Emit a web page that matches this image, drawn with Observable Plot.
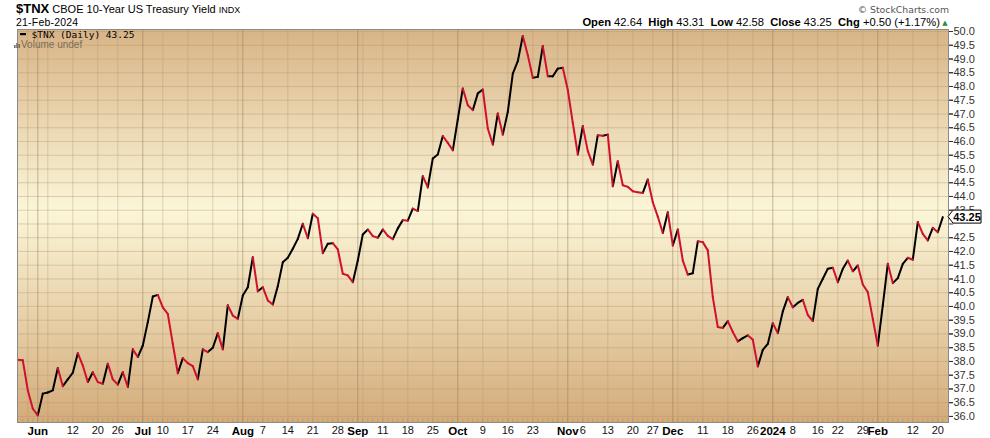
<!DOCTYPE html>
<html>
<head>
<meta charset="utf-8">
<script src="https://cdn.jsdelivr.net/npm/d3@7"></script>
<script src="https://cdn.jsdelivr.net/npm/@observablehq/plot@0.6"></script>
<style>
  html, body { margin: 0; padding: 0; background: #ffffff; }
  #chart { width: 990px; height: 438px; overflow: hidden; }
</style>
</head>
<body>
<div id="chart"></div>
<script>
(function () {
// ---------------- DATA ----------------
const symbol = "$TNX";
const title = "CBOE 10-Year US Treasury Yield";
const exchange = "INDX";
const asOf = "21-Feb-2024";
const quote = [["Open", "42.64"], ["High", "43.31"], ["Low", "42.58"], ["Close", "43.25"], ["Chg", "+0.50 (+1.17%)"]];
const lastValue = 43.25;

// trading calendar (weekdays minus market holidays)
const firstDay = "2023-05-25";
const lastDay = "2024-02-21";
const holidays = ["2023-05-29", "2023-06-19", "2023-07-04", "2023-09-04", "2023-11-23",
                  "2023-12-25", "2024-01-01", "2024-01-15", "2024-02-19"];

// daily closes (yield x10)
const closesMay = [38.06, 38.04, 36.95, 36.28];
const closesJun = [36.04, 36.83, 36.87, 36.95, 37.76, 37.10, 37.35, 37.59, 38.30, 37.85, 37.25,
                   37.61, 37.25, 37.19, 37.92, 37.35, 37.16, 37.61, 37.07, 38.44, 38.16];
const closesJul = [38.58, 39.43, 40.36, 40.42, 39.97, 39.73, 38.64, 37.57, 38.12, 37.94, 37.83,
                   37.35, 38.44, 38.34, 38.50, 39.03, 38.44, 40.04, 39.67, 39.55];
const closesAug = [40.40, 40.70, 41.79, 40.55, 40.70, 40.22, 40.07, 40.74, 41.61, 41.77, 42.10,
                   42.46, 43.01, 42.48, 43.37, 43.21, 41.94, 42.28, 42.30, 42.08, 41.19, 41.13, 40.88];
const closesSep = [41.67, 42.62, 42.80, 42.56, 42.50, 42.80, 42.57, 42.45, 42.84, 43.14, 43.12,
                   43.56, 43.47, 44.74, 44.33, 45.38, 45.53, 46.20, 45.95, 45.68];
const closesOct = [46.81, 47.93, 47.32, 47.14, 47.75, 47.89, 46.47, 45.89, 47.02, 46.25, 47.08,
                   48.47, 48.92, 49.84, 49.14, 48.32, 48.35, 49.47, 48.37, 48.37, 48.65, 48.68];
const closesNov = [47.87, 46.68, 45.53, 46.56, 45.65, 45.16, 46.23, 46.21, 46.25, 44.37, 45.28,
                   44.41, 44.35, 44.19, 44.15, 44.13, 44.62, 43.79, 43.27, 42.67, 43.43];
const closesDec = [42.22, 42.80, 41.67, 41.16, 41.21, 42.37, 42.34, 42.04, 40.34, 39.25, 39.22,
                   39.47, 39.07, 38.73, 38.85, 38.95, 38.79, 37.82, 38.42, 38.64];
const closesJan = [39.39, 39.03, 39.82, 40.34, 39.97, 40.13, 40.24, 39.69, 39.47, 40.64, 41.01,
                   41.37, 41.41, 40.88, 41.37, 41.67, 41.28, 41.49, 40.80, 40.52, 39.55];
const closesFeb = [38.58, 40.04, 41.55, 40.85, 41.03, 41.55, 41.77, 41.70, 43.07, 42.64, 42.40,
                   42.86, 42.70, 43.25];

// axis labels
const monthTickDates = ["2023-06-01", "2023-07-03", "2023-08-01", "2023-09-01", "2023-10-02",
                        "2023-11-01", "2023-12-01", "2024-01-02", "2024-02-01"];
const monthTickLabels = ["Jun", "Jul", "Aug", "Sep", "Oct", "Nov", "Dec", "2024", "Feb"];
const dayTickDates = ["2023-06-12", "2023-06-20", "2023-06-26", "2023-07-10", "2023-07-17", "2023-07-24",
                      "2023-08-07", "2023-08-14", "2023-08-21", "2023-08-28", "2023-09-11", "2023-09-18",
                      "2023-09-25", "2023-10-09", "2023-10-16", "2023-10-23", "2023-11-06", "2023-11-13",
                      "2023-11-20", "2023-11-27", "2023-12-11", "2023-12-18", "2023-12-26", "2024-01-08",
                      "2024-01-16", "2024-01-22", "2024-01-29", "2024-02-12", "2024-02-20"];
const dayTickLabels = ["12", "20", "26", "10", "17", "24", "7", "14", "21", "28", "11", "18", "25",
                       "9", "16", "23", "6", "13", "20", "27", "11", "18", "26", "8", "16", "22", "29", "12", "20"];
const yTicks = d3.range(36, 50.001, 0.5);
const yLabelTicks = yTicks.filter(v => v !== 43);   // 43.0 sits under the last-value marker

// ---------------- BUILD ----------------
const values = [].concat(closesMay, closesJun, closesJul, closesAug, closesSep, closesOct,
                         closesNov, closesDec, closesJan, closesFeb);
const fmt = d3.utcFormat("%Y-%m-%d");
const hol = new Set(holidays);
const dates = d3.utcDay.range(new Date(firstDay), d3.utcDay.offset(new Date(lastDay), 1))
  .filter(d => d.getUTCDay() !== 0 && d.getUTCDay() !== 6 && !hol.has(fmt(d)));
const data = dates.map((d, i) => ({i, date: d, key: fmt(d), v: values[i]}));
const idxOf = new Map(data.map(d => [d.key, d.i]));

const segs = d3.pairs(data).map(([a, b]) => ({i0: a.i, v0: a.v, i1: b.i, v1: b.v, down: b.v < a.v}));

const monthIdx = monthTickDates.map(d => idxOf.get(d));
const dayIdx = dayTickDates.map(d => idxOf.get(d));
const monthLabel = new Map(monthIdx.map((i, k) => [i, monthTickLabels[k]]));
const dayLabel = new Map(dayIdx.map((i, k) => [i, dayTickLabels[k]]));

// grid: first trading day of each week and of each month
const weekLines = [], monthLines = [];
for (let k = 1; k < data.length; k++) {
  const a = data[k - 1].date, b = data[k].date;
  if (a.getUTCMonth() !== b.getUTCMonth()) monthLines.push(k);
  else if (+d3.utcMonday.floor(a) !== +d3.utcMonday.floor(b)) weekLines.push(k);
}

const xDomain = [-0.06, data.length + 0.14];
const yDomain = [35.78, 50.073];

const FONT = "'Liberation Sans', Arial, Helvetica, sans-serif";

const plot = Plot.plot({
  width: 990,
  height: 438,
  marginLeft: 17,
  marginRight: 42,
  marginTop: 29,
  marginBottom: 16,
  x: {type: "linear", domain: xDomain},
  y: {type: "linear", domain: yDomain},
  style: {fontFamily: FONT, fontSize: "11px", background: "transparent", overflow: "visible"},
  marks: [
    Plot.frame({fill: "#faf5d6"}),
    Plot.ruleY(yTicks, {stroke: "#b09268", strokeOpacity: 0.38, strokeWidth: 1}),
    Plot.ruleX(weekLines, {stroke: "#b09268", strokeOpacity: 0.36, strokeWidth: 1}),
    Plot.ruleX(monthLines, {stroke: "#94785a", strokeOpacity: 0.5, strokeWidth: 1}),
    Plot.ruleX(data, {x: "i", y1: yDomain[0], y2: yDomain[0] + 0.13, stroke: "#a0845e", strokeOpacity: 0.45}),
    Plot.link(segs.filter(s => !s.down), {x1: "i0", y1: "v0", x2: "i1", y2: "v1",
      stroke: "#000000", strokeWidth: 2, strokeLinecap: "round", strokeLinejoin: "round"}),
    Plot.link(segs.filter(s => s.down), {x1: "i0", y1: "v0", x2: "i1", y2: "v1",
      stroke: "#d0102c", strokeWidth: 2, strokeLinecap: "round", strokeLinejoin: "round"}),
    Plot.frame({stroke: "#8a8a8a", strokeWidth: 1}),
    Plot.axisY({anchor: "right", ticks: yTicks, tickFormat: null, text: null, tickSize: 4,
      color: "#333", label: null}),
    Plot.axisY({anchor: "right", ticks: yLabelTicks, tickFormat: d => d.toFixed(1), tickSize: 4,
      tickPadding: 1, color: "#333", label: null, fontSize: 11}),
    Plot.axisX({ticks: dayIdx, tickFormat: i => dayLabel.get(i), tickSize: 0, tickPadding: 4,
      color: "#111", label: null, fontSize: 11}),
    Plot.axisX({ticks: monthIdx, tickFormat: i => monthLabel.get(i), tickSize: 0, tickPadding: 4,
      color: "#000", label: null, fontSize: 11.5, fontWeight: "bold"})
  ]
});

document.getElementById("chart").appendChild(plot);

// ---------- decorations through the plot's own scales ----------
const svg = d3.select(plot);
const defs = svg.insert("defs", ":first-child");
const grad = defs.append("linearGradient").attr("id", "bgGrad")
  .attr("x1", 0).attr("y1", 0).attr("x2", 0).attr("y2", 1);
grad.append("stop").attr("offset", "0%").attr("stop-color", "#d8b487");
grad.append("stop").attr("offset", "46%").attr("stop-color", "#fbf6d8");
grad.append("stop").attr("offset", "100%").attr("stop-color", "#d4ab7a");
const frameEl = plot.querySelector('[aria-label="frame"]');
if (frameEl) {
  const r = frameEl.tagName.toLowerCase() === "rect" ? frameEl : frameEl.querySelector("rect");
  if (r) r.setAttribute("fill", "url(#bgGrad)");
}

const xs = plot.scale("x"), ys = plot.scale("y");
const plotRight = xs.apply(xDomain[1]);
const plotLeft = xs.apply(xDomain[0]);
const plotTop = ys.apply(yDomain[1]);

const deco = svg.append("g").attr("text-anchor", "start");

// last value marker
const my = ys.apply(lastValue);
const mx = plotRight;
deco.append("path")
  .attr("d", `M${mx},${my} L${mx + 5},${my - 6.5} L${mx + 33},${my - 6.5} L${mx + 33},${my + 6.5} L${mx + 5},${my + 6.5} Z`)
  .attr("fill", "#ffffff").attr("stroke", "#000").attr("stroke-width", 1);
deco.append("text").attr("x", mx + 19).attr("y", my + 4).attr("text-anchor", "middle")
  .attr("font-family", FONT).attr("font-size", 11).attr("font-weight", "bold").attr("fill", "#000")
  .text(lastValue.toFixed(2));

// header
const t1 = deco.append("text").attr("x", plotLeft - 1).attr("y", 13).attr("font-family", FONT).attr("fill", "#000");
t1.append("tspan").attr("font-weight", "bold").attr("font-size", 13).text(symbol);
t1.append("tspan").attr("font-size", 11).text("\u00A0" + title + "\u00A0");
t1.append("tspan").attr("font-size", 9).text(exchange);
deco.append("text").attr("x", plotLeft - 1).attr("y", 25.5).attr("font-family", FONT)
  .attr("font-size", 10.5).attr("fill", "#000").attr("letter-spacing", 0.2).text(asOf);

deco.append("text").attr("x", plotRight + 1).attr("y", 12.7).attr("text-anchor", "end")
  .attr("font-family", "'DejaVu Sans', Verdana, sans-serif").attr("font-size", 9.3).attr("fill", "#555")
  .text("\u00A9 StockCharts.com");

const q = deco.append("text").attr("x", plotRight - 8).attr("y", 26).attr("text-anchor", "end")
  .attr("font-family", FONT).attr("font-size", 11.2).attr("fill", "#000");
quote.forEach(([k, v], n) => {
  q.append("tspan").attr("font-weight", "bold").text((n ? "\u00A0\u00A0" : "") + k + "\u00A0");
  q.append("tspan").text(v);
});
deco.append("text").attr("x", plotRight - 3).attr("y", 25).attr("text-anchor", "middle")
  .attr("font-family", "'DejaVu Sans', sans-serif").attr("font-size", 7).attr("fill", "#2e8b3a").text("\u25B2");

// in-chart legend
deco.append("rect").attr("x", plotLeft + 3).attr("y", plotTop + 4).attr("width", 6).attr("height", 2.2)
  .attr("fill", "#000");
deco.append("text").attr("x", plotLeft + 14.5).attr("y", plotTop + 8.5)
  .attr("font-family", "'DejaVu Sans Mono', monospace").attr("font-size", 9.5).attr("fill", "#000")
  .text(symbol + "\u00A0(Daily)\u00A0" + lastValue.toFixed(2));
[[0, 3], [2.2, 5], [4.4, 4]].forEach(([dx, h]) => {
  deco.append("rect").attr("x", plotLeft - 3 + dx).attr("y", plotTop + 19 - h).attr("width", 1.6).attr("height", h)
    .attr("fill", "#7d6c58");
});
deco.append("text").attr("x", plotLeft + 4).attr("y", plotTop + 19).attr("font-family", FONT)
  .attr("font-size", 10).attr("fill", "#7d6c58").text("Volume undef");
})();
</script>
</body>
</html>
